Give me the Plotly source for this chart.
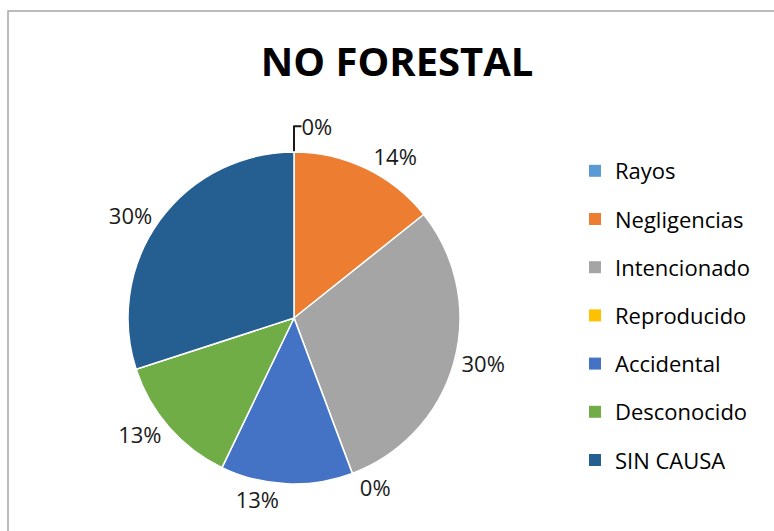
import plotly.graph_objects as go

# causas de incendios - no forestal
causas = ["Rayos", "Negligencias", "Intencionado", "Reproducido",
          "Accidental", "Desconocido", "SIN CAUSA"]
valores = [0, 10, 21, 0, 9, 9, 21]
colores = ["#5B9BD5", "#ED7D31", "#A5A5A5", "#FFC000",
           "#4472C4", "#70AD47", "#255E91"]

W, H = 774, 531

fig = go.Figure()
fig.add_trace(go.Pie(
    labels=causas,
    values=valores,
    sort=False,
    direction="clockwise",
    rotation=0,
    marker=dict(colors=colores, line=dict(color="white", width=1.5)),
    textposition="outside",
    texttemplate="%{percent:.0%}",
    textfont=dict(size=22, color="#1a1a1a", family="Open Sans"),
    domain=dict(x=[128 / W, 460 / W], y=[1 - 484 / H, 1 - 152 / H]),
    showlegend=False,
    hoverinfo="label+value+percent",
))

# leyenda: una entrada por causa, separadas como en el original
for causa, color in zip(causas, colores):
    fig.add_trace(go.Scatter(
        x=[None], y=[None], mode="markers", name=causa,
        legendgroup=causa,
        marker=dict(symbol="square", size=12, color=color),
    ))

fig.update_layout(
    width=W, height=H,
    margin=dict(l=0, r=0, t=0, b=0),
    paper_bgcolor="white",
    plot_bgcolor="white",
    font=dict(family="Open Sans", color="#000000"),
    title=dict(text="<b>NO FORESTAL</b>", x=0.513, xanchor="center",
               y=1 - 62 / H, yanchor="middle",
               font=dict(size=40, family="Open Sans", color="#000000")),
    legend=dict(x=575 / W, xanchor="left", y=1 - 150 / H, yanchor="top",
                font=dict(size=22, family="Open Sans", color="#000000"),
                itemwidth=30, tracegroupgap=16.6, bgcolor="rgba(0,0,0,0)"),
    xaxis=dict(visible=False),
    yaxis=dict(visible=False),
    shapes=[dict(type="rect", xref="paper", yref="paper",
                 x0=8 / W, x1=1.05, y0=-0.05, y1=1 - 11 / H,
                 line=dict(color="#A6A6A6", width=1.5))],
)

fig.write_html("out.html", config={"displayModeBar": False},
               post_script="document.body.style.margin='0';")
